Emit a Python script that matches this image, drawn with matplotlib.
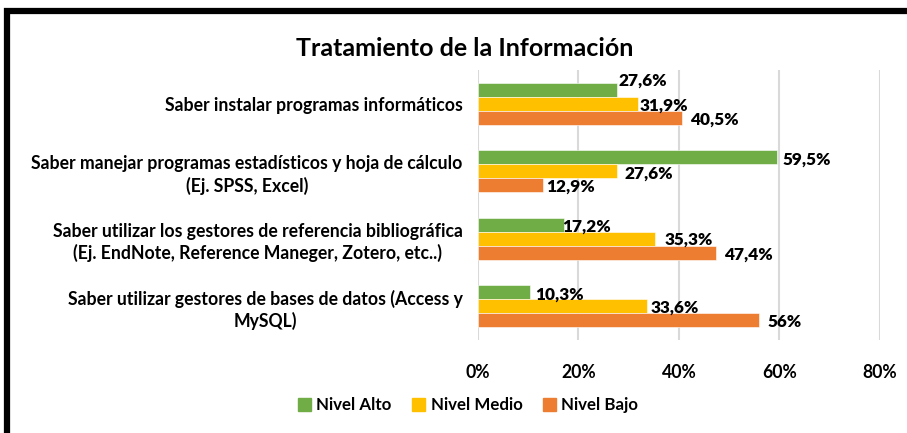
import matplotlib
matplotlib.use('Agg')
import matplotlib.pyplot as plt
from matplotlib.patches import Rectangle, Patch
from matplotlib.ticker import FuncFormatter
import numpy as np

plt.rcParams['font.family'] = ['Lato', 'DejaVu Sans']
plt.rcParams['font.weight'] = 'bold'

# ─── Data ────────────────────────────────────────────────────────────────────
categorias = [
    'Saber instalar programas informáticos',
    'Saber manejar programas estadísticos y hoja de cálculo\n(Ej. SPSS, Excel)',
    'Saber utilizar los gestores de referencia bibliográfica\n(Ej. EndNote, Reference Maneger, Zotero, etc..)',
    'Saber utilizar gestores de bases de datos (Access y\nMySQL)',
]
nivel_alto  = [27.6, 59.5, 17.2, 10.3]
nivel_medio = [31.9, 27.6, 35.3, 33.6]
nivel_bajo  = [40.5, 12.9, 47.4, 56.0]
etiquetas_alto  = ['27,6%', '59,5%', '17,2%', '10,3%']
etiquetas_medio = ['31,9%', '27,6%', '35,3%', '33,6%']
etiquetas_bajo  = ['40,5%', '12,9%', '47,4%', '56%']
ticks_x = [0, 20, 40, 60, 80]

VERDE, AMARILLO, NARANJA = '#70AD47', '#FFC000', '#ED7D31'

# ─── Figure ──────────────────────────────────────────────────────────────────
fig = plt.figure(figsize=(9.07, 4.33), dpi=100)
ax = fig.add_axes([478 / 907, 1 - 340 / 433, 402 / 907, 270 / 433])

y = np.arange(len(categorias))
h = 0.207
series = [
    (nivel_alto, etiquetas_alto, VERDE, -h, 'Nivel Alto'),
    (nivel_medio, etiquetas_medio, AMARILLO, 0.0, 'Nivel Medio'),
    (nivel_bajo, etiquetas_bajo, NARANJA, h, 'Nivel Bajo'),
]
# label nudges in pixels (dx, dy), dy positive = up
nudges = {
    'Nivel Alto':  [(2, 9), (6, -2), (-2, -2), (5, -2)],
    'Nivel Medio': [(1, -2), (8, -2), (9, -1), (4, -1)],
    'Nivel Bajo':  [(9, -2), (3, -1), (8, -2), (8, -2)],
}

for vals, labs, col, off, name in series:
    ax.barh(y + off, vals, height=h, color=col, zorder=3,
            edgecolor='white', linewidth=0.4)
    for i, (v, lab) in enumerate(zip(vals, labs)):
        dx, dy = nudges[name][i]
        ax.annotate(lab, xy=(v, y[i] + off), xytext=(dx * 0.72, dy * 0.72),
                    textcoords='offset points', ha='left', va='center',
                    fontsize=12.4, fontweight='heavy', color='black', zorder=4)

ax.set_xlim(0, 80)
ax.set_ylim(len(categorias) - 0.5, -0.5)
ax.set_xticks(ticks_x)
ax.xaxis.set_major_formatter(FuncFormatter(lambda v, p: f'{v:.0f}%'))
ax.set_yticks(y)
ax.set_yticklabels(categorias, multialignment='center', linespacing=1.3)
ax.tick_params(axis='y', length=0, pad=11, labelsize=12.7)
ax.tick_params(axis='x', length=0, pad=17, labelsize=12.7)
for lbl in ax.get_xticklabels() + ax.get_yticklabels():
    lbl.set_fontweight('bold')
ax.grid(axis='x', color='#D9D9D9', linewidth=1.5, zorder=0)
for s in ax.spines.values():
    s.set_visible(False)

fig.text(465 / 907, 1 - 48 / 433, 'Tratamiento de la Información',
         ha='center', va='center', fontsize=18, fontweight='bold')

handles = [Patch(color=VERDE, label='Nivel Alto'),
           Patch(color=AMARILLO, label='Nivel Medio'),
           Patch(color=NARANJA, label='Nivel Bajo')]
fig.legend(handles=handles, loc='center', bbox_to_anchor=(468 / 907, 1 - 405 / 433),
           ncol=3, frameon=False, handlelength=0.8, handleheight=0.8,
           handletextpad=0.3, columnspacing=1.2,
           prop={'weight': 'bold', 'size': 12.2})

# outer chart frame (thick black border)
fig.patches.append(Rectangle((7 / 907, -0.2), 1.2, 1.2 - 11 / 433,
                             transform=fig.transFigure, fill=False,
                             edgecolor='black', linewidth=4.5, zorder=10))

fig.savefig('out.png', dpi=100)
